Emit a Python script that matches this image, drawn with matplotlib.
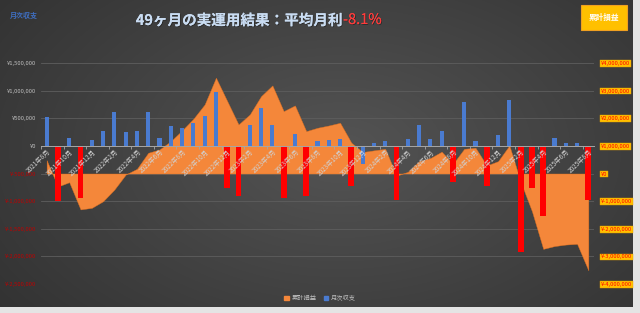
import numpy as np
import matplotlib.pyplot as plt
from matplotlib.patches import Rectangle
from matplotlib.ticker import FuncFormatter
from matplotlib.patches import Patch
import matplotlib.patheffects as pe

plt.rcParams['font.family'] = ['Noto Sans CJK JP', 'DejaVu Sans']

# monthly result (yen), 2021-08 .. 2025-08
monthly = [523000, -993000, 134000, -950000, 103000, 265000, 614000, 253000, 271000, 608000,
           139000, 356000, 320000, 410000, 541000, 975000, -769000, -903000, 374000, 680000,
           374000, -939000, 211000, -903000, 90000, 105000, 120000, -722000, -336000, 60000,
           85000, -975000, 120000, 379000, 120000, 271000, -650000, 794000, 97000, -722000,
           199000, 838000, -1913000, -769000, -1274000, 139000, 49000, 49000, -980000]
# cumulative profit (yen)
cumulative = [482000, -470000, -315000, -1300000, -1243000, -1004000, -580000, -40000, 170000, 750000,
              870000, 1170000, 1560000, 1980000, 2500000, 3467000, 2620000, 1775000, 2138000, 2801000,
              3188000, 2257000, 2464000, 1533000, 1656000, 1739000, 1836000, 1114000, 778000, 838000,
              894000, -80000, 60000, 440000, 560000, 790000, 350000, 894000, 931000, 290000,
              446000, 1014000, -300000, -1366000, -2728000, -2627000, -2572000, -2547000, -3504000]
# months drawn as red bars
red_months = [1, 3, 16, 17, 21, 23, 27, 31, 36, 39, 42, 43, 44, 48]
tick_labels = ["2021年8月", "2021年10月", "2021年12月", "2022年2月", "2022年4月", "2022年6月",
               "2022年8月", "2022年10月", "2022年12月", "2023年2月", "2023年4月", "2023年6月",
               "2023年8月", "2023年10月", "2023年12月", "2024年2月", "2024年4月", "2024年6月",
               "2024年8月", "2024年10月", "2024年12月", "2025年2月", "2025年4月", "2025年6月",
               "2025年8月"]

W, H = 640, 313
fig = plt.figure(figsize=(6.4, 3.13), dpi=100, facecolor='#e4e4e4')

# dark chart background with a soft radial gradient
bg = fig.add_axes([0, 6 / H, 633 / W, 307 / H], zorder=-10)
yy, xx = np.mgrid[0:307, 0:633]
d = np.sqrt(((xx - 340) / 420.0) ** 2 + ((yy - 150) / 260.0) ** 2)
shade = np.clip(0.33 - 0.13 * d, 0.18, 0.33)
bg.imshow(np.dstack([shade] * 3), aspect='auto', extent=[0, 1, 0, 1])
bg.axis('off')

x = np.arange(len(monthly))
ax = fig.add_axes([41 / W, (H - 284) / H, 553 / W, 221 / H])
ax2 = ax.twinx()
ax.set_zorder(2)
ax2.set_zorder(1)
ax.patch.set_visible(False)
ax2.patch.set_visible(False)

# cumulative area on the right axis (behind)
ax2.fill_between(x, cumulative, 0, color='#f4873a', linewidth=0.3, edgecolor='#e0701e')
ax2.set_ylim(-4000000, 4000000)
ax2.set_yticks(np.arange(-4000000, 4000001, 1000000))
ax2.yaxis.set_major_formatter(FuncFormatter(lambda v, p: f"¥{v:,.0f}"))
ax2.grid(axis='y', color='#5e5e5e', linewidth=0.6)
ax2.set_axisbelow(True)
ax2.tick_params(axis='y', length=0, labelsize=4.2, labelcolor='#ff0000', pad=5)
for lab in ax2.get_yticklabels():
    lab.set_bbox(dict(facecolor='#ffc000', edgecolor='#e59c00', pad=0.6, linewidth=0.3))

# monthly bars on the left axis (front)
colors = ['#ff0000' if i in red_months else '#4a7bd0' for i in x]
widths = [0.52 if i in red_months else 0.37 for i in x]
ax.bar(x, monthly, width=widths, color=colors)
ax.set_ylim(-2500000, 1500000)
ax.set_xlim(-0.5, 48.5)
ax.set_yticks(np.arange(-2500000, 1500001, 500000))
ax.yaxis.set_major_formatter(FuncFormatter(lambda v, p: f"¥{v:,.0f}"))
ax.tick_params(axis='y', length=0, labelsize=4.2, pad=3.5)
for v, lab in zip(ax.get_yticks(), ax.get_yticklabels()):
    lab.set_color('#c00000' if v < 0 else '#bfbfbf')

for s in ['top', 'right', 'left']:
    ax.spines[s].set_visible(False)
for s in ax2.spines:
    ax2.spines[s].set_visible(False)
ax.spines['bottom'].set_position(('data', 0))
ax.spines['bottom'].set_color('#a6a6a6')
ax.spines['bottom'].set_linewidth(0.7)

ax.set_xticks(np.arange(-0.5, 49, 2))
ax.set_xticklabels([])
ax.tick_params(axis='x', which='major', length=2.5, color='#a6a6a6', width=0.6)
ax.set_xticks(np.arange(0, 49, 2), minor=True)
ax.set_xticklabels(tick_labels, minor=True, rotation=45, ha='right', va='top',
                   rotation_mode='anchor', fontsize=4.6, color='#d0d0d0')
ax.tick_params(axis='x', which='minor', length=0, pad=1.5)

# title and headers
ty = 1 - 20 / H
shadow = [pe.withSimplePatchShadow(offset=(0.6, -0.6), shadow_rgbFace='#1a1a1a', alpha=0.6), pe.Normal()]
fig.text(343 / W, ty, "49ヶ月の実運用結果：平均月利", ha='right', va='center',
         fontsize=10.5, color='#c9dcf2', fontweight='bold', path_effects=shadow)
fig.text(343 / W, ty, "-8.1%", ha='left', va='center', fontsize=10.5, color='#ff3b3b',
         path_effects=shadow)
fig.text(10 / W, 1 - 15 / H, "月次収支", ha='left', va='center', fontsize=5,
         color='#3f6fc2', fontweight='bold')
fig.patches.append(Rectangle((581 / W, 1 - 30 / H), 46 / W, 25 / H, transform=fig.transFigure,
                             facecolor='#ffc000', edgecolor='#f0a020', linewidth=0.8))
fig.text(604 / W, 1 - 17 / H, "累計損益", ha='center', va='center', fontsize=5.5,
         color='white', fontweight='bold')

handles = [Patch(color='#f4873a', label='累計損益'), Patch(color='#4a7bd0', label='月次収支')]
fig.legend(handles=handles, loc='center', bbox_to_anchor=(0.5, 1 - 298 / H), ncol=2,
           frameon=False, fontsize=4.5, labelcolor='#bfbfbf', handlelength=0.7,
           handleheight=0.7, columnspacing=1.2, handletextpad=0.4)

fig.savefig("out.png", dpi=100, facecolor=fig.get_facecolor())
